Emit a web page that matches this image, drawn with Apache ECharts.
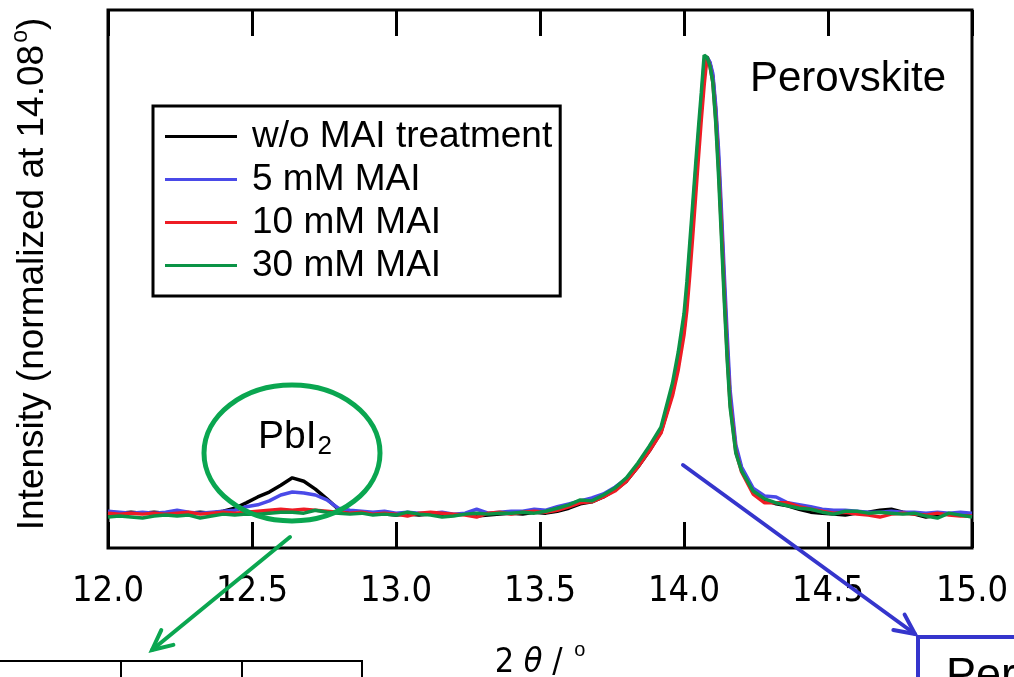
<!DOCTYPE html>
<html>
<head>
<meta charset="utf-8">
<title>XRD PbI2 / Perovskite</title>
<script src="https://cdn.jsdelivr.net/npm/echarts@6/dist/echarts.min.js"></script>
<style>
  html, body { margin: 0; padding: 0; background: #fff; }
  #chart { width: 1014px; height: 677px; }
</style>
</head>
<body>
<div id="chart"></div>
<script>
// 2θ positions (deg), finer steps around the main peak
const twoTheta = [
  12.00, 12.04, 12.08, 12.12, 12.16, 12.20, 12.24, 12.28, 12.32, 12.36,
  12.40, 12.44, 12.48, 12.52, 12.56, 12.60, 12.64, 12.68, 12.72, 12.76,
  12.80, 12.84, 12.88, 12.92, 12.96, 13.00, 13.04, 13.08, 13.12, 13.16,
  13.20, 13.24, 13.28, 13.32, 13.36, 13.40, 13.44, 13.48, 13.52, 13.56,
  13.60, 13.64, 13.68, 13.72, 13.76, 13.80, 13.84, 13.88, 13.92, 13.96,
  13.98, 14.00, 14.01, 14.02, 14.03, 14.04, 14.05, 14.06, 14.07, 14.08,
  14.09, 14.10, 14.11, 14.12, 14.13, 14.14, 14.15, 14.16, 14.18, 14.20,
  14.24, 14.28, 14.32, 14.36, 14.40, 14.44, 14.48, 14.52, 14.56, 14.60,
  14.64, 14.68, 14.72, 14.76, 14.80, 14.84, 14.88, 14.92, 14.96, 15.00
];

// intensity normalized at 14.08°
const woMAI = [
  0.069, 0.071, 0.073, 0.071, 0.073, 0.071, 0.073, 0.071, 0.073, 0.071,
  0.075, 0.081, 0.092, 0.104, 0.114, 0.128, 0.143, 0.136, 0.120, 0.100,
  0.079, 0.075, 0.073, 0.071, 0.069, 0.067, 0.069, 0.067, 0.069, 0.065,
  0.067, 0.069, 0.065, 0.067, 0.069, 0.071, 0.069, 0.073, 0.071, 0.075,
  0.081, 0.090, 0.094, 0.104, 0.118, 0.136, 0.165, 0.198, 0.236, 0.316,
  0.373, 0.444, 0.505, 0.582, 0.660, 0.739, 0.819, 0.892, 0.963, 1.000,
  0.988, 0.961, 0.892, 0.790, 0.664, 0.530, 0.407, 0.305, 0.202, 0.161,
  0.118, 0.098, 0.090, 0.086, 0.079, 0.073, 0.071, 0.069, 0.067, 0.071,
  0.073, 0.077, 0.079, 0.073, 0.069, 0.063, 0.067, 0.069, 0.067, 0.065
];
const mai5 = [
  0.075, 0.073, 0.071, 0.073, 0.071, 0.073, 0.077, 0.073, 0.071, 0.073,
  0.075, 0.077, 0.084, 0.088, 0.096, 0.108, 0.114, 0.112, 0.108, 0.098,
  0.081, 0.077, 0.075, 0.073, 0.075, 0.071, 0.073, 0.071, 0.071, 0.073,
  0.069, 0.071, 0.079, 0.071, 0.073, 0.075, 0.075, 0.079, 0.077, 0.084,
  0.090, 0.096, 0.102, 0.110, 0.124, 0.141, 0.169, 0.204, 0.242, 0.326,
  0.387, 0.460, 0.525, 0.603, 0.682, 0.762, 0.839, 0.912, 0.990, 1.000,
  0.990, 0.967, 0.902, 0.811, 0.688, 0.556, 0.434, 0.322, 0.210, 0.165,
  0.122, 0.106, 0.104, 0.092, 0.088, 0.084, 0.079, 0.077, 0.077, 0.075,
  0.073, 0.073, 0.075, 0.073, 0.073, 0.071, 0.073, 0.071, 0.073, 0.071
];
const mai10 = [
  0.071, 0.069, 0.071, 0.069, 0.071, 0.069, 0.071, 0.073, 0.069, 0.071,
  0.073, 0.071, 0.073, 0.075, 0.077, 0.079, 0.077, 0.079, 0.077, 0.075,
  0.073, 0.071, 0.073, 0.069, 0.071, 0.069, 0.065, 0.071, 0.073, 0.071,
  0.069, 0.067, 0.063, 0.071, 0.073, 0.069, 0.073, 0.075, 0.073, 0.077,
  0.084, 0.092, 0.094, 0.104, 0.116, 0.136, 0.165, 0.198, 0.234, 0.310,
  0.363, 0.434, 0.485, 0.556, 0.633, 0.713, 0.794, 0.872, 0.943, 1.000,
  0.982, 0.949, 0.876, 0.774, 0.648, 0.515, 0.393, 0.295, 0.196, 0.155,
  0.110, 0.092, 0.092, 0.092, 0.084, 0.079, 0.075, 0.071, 0.073, 0.069,
  0.067, 0.063, 0.069, 0.071, 0.069, 0.067, 0.071, 0.067, 0.065, 0.065
];
const mai30 = [
  0.063, 0.065, 0.063, 0.061, 0.065, 0.067, 0.065, 0.067, 0.061, 0.065,
  0.069, 0.067, 0.069, 0.069, 0.071, 0.073, 0.073, 0.071, 0.077, 0.073,
  0.071, 0.069, 0.071, 0.067, 0.069, 0.067, 0.073, 0.069, 0.067, 0.063,
  0.065, 0.069, 0.071, 0.069, 0.071, 0.071, 0.073, 0.071, 0.075, 0.081,
  0.088, 0.098, 0.096, 0.108, 0.122, 0.143, 0.173, 0.208, 0.246, 0.336,
  0.399, 0.477, 0.542, 0.621, 0.699, 0.778, 0.855, 0.927, 1.004, 1.000,
  0.982, 0.949, 0.868, 0.758, 0.631, 0.501, 0.383, 0.287, 0.193, 0.157,
  0.116, 0.100, 0.092, 0.086, 0.081, 0.079, 0.073, 0.069, 0.075, 0.075,
  0.071, 0.073, 0.071, 0.069, 0.071, 0.065, 0.061, 0.071, 0.067, 0.063
];

const seriesNames = ['w/o MAI treatment', '5 mM MAI', '10 mM MAI', '30 mM MAI'];
const seriesColors = ['#000000', '#4a4ae8', '#ee1c24', '#0b9346'];
const seriesData = [woMAI, mai5, mai10, mai30];

const FONT = '"Liberation Sans", Arial, sans-serif';
const NARROW = '"DejaVu Sans Condensed", "Liberation Sans Narrow", sans-serif';

const chart = echarts.init(document.getElementById('chart'), null, { renderer: 'canvas' });

// annotation arrow: line plus two head strokes
function arrow(x1, y1, x2, y2, color, head) {
  const a = Math.atan2(y2 - y1, x2 - x1);
  const h1 = [x2 - head * Math.cos(a - 0.45), y2 - head * Math.sin(a - 0.45)];
  const h2 = [x2 - head * Math.cos(a + 0.45), y2 - head * Math.sin(a + 0.45)];
  const style = { stroke: color, lineWidth: 4, lineCap: 'round' };
  return [
    { type: 'line', shape: { x1, y1, x2, y2 }, style, z: 10 },
    { type: 'polyline', shape: { points: [h1, [x2, y2], h2] }, style, z: 10 }
  ];
}

const option = {
  animation: false,
  backgroundColor: '#fff',
  grid: {
    left: 108, right: 42, top: 10, bottom: 129,
    outerBoundsMode: 'none',
    containLabel: false,
    show: true, borderColor: '#000', borderWidth: 3, backgroundColor: 'transparent'
  },
  legend: {
    orient: 'vertical',
    left: 153, top: 106,
    padding: [12, 8, 12, 12],
    borderColor: '#000', borderWidth: 3,
    icon: 'rect',
    itemWidth: 72, itemHeight: 3, itemGap: 6,
    data: seriesNames,
    textStyle: { fontFamily: FONT, fontSize: 37, color: '#000', padding: [0, 0, 0, 10] }
  },
  xAxis: [
    {
      type: 'value', min: 12, max: 15, interval: 0.5,
      axisLine: { show: false },
      axisTick: { inside: true, length: 26, lineStyle: { color: '#000', width: 3 } },
      axisLabel: {
        margin: 26, fontFamily: NARROW, fontSize: 36, color: '#000',
        formatter: v => v.toFixed(1)
      },
      splitLine: { show: false },
      name: '{n|2 }{i|θ}{n| / }{s|o}',
      nameLocation: 'middle', nameGap: 92,
      nameTextStyle: {
        rich: {
          n: { fontFamily: NARROW, fontSize: 34, color: '#000' },
          i: { fontFamily: NARROW, fontSize: 34, fontStyle: 'italic', color: '#000' },
          s: { fontFamily: FONT, fontSize: 20, color: '#000', padding: [0, 0, 26, 2] }
        }
      }
    },
    {
      type: 'value', min: 12, max: 15, interval: 0.5, position: 'top',
      axisLine: { show: false },
      axisTick: { inside: true, length: 26, lineStyle: { color: '#000', width: 3 } },
      axisLabel: { show: false },
      splitLine: { show: false }
    }
  ],
  yAxis: {
    type: 'value', min: 0, max: 1.096,
    axisLine: { show: false }, axisTick: { show: false }, axisLabel: { show: false },
    splitLine: { show: false },
    name: 'Intensity (normalized at 14.08{s|o})',
    nameLocation: 'middle', nameGap: 52, nameRotate: 90,
    nameTextStyle: {
      fontFamily: FONT, fontSize: 37, color: '#000', padding: [0, 0, 0, 10],
      rich: { s: { fontFamily: FONT, fontSize: 23, color: '#000', padding: [0, 0, 24, 2] } }
    }
  },
  series: seriesNames.map((name, k) => ({
    name,
    type: 'line',
    symbol: 'none',
    color: seriesColors[k],
    lineStyle: { width: 3.5, color: seriesColors[k] },
    data: twoTheta.map((x, i) => [x, seriesData[k][i]]),
    z: 2 + k
  })),
  graphic: [
    { type: 'text', left: 750, top: 58, style: { text: 'Perovskite', font: '42px ' + FONT, fill: '#000' } },
    {
      type: 'text', left: 258, top: 418,
      style: {
        text: '{m|PbI}{b|2}',
        rich: {
          m: { font: '39px ' + FONT, fill: '#000' },
          b: { font: '26px ' + FONT, fill: '#000', padding: [18, 0, 0, 1] }
        }
      }
    },
    { type: 'ellipse', shape: { cx: 292, cy: 453, rx: 88, ry: 68 }, style: { fill: 'none', stroke: '#0aa650', lineWidth: 5 }, z: 10 },
    ...arrow(290, 537, 152, 650, '#0aa650', 22),
    ...arrow(683, 465, 915, 634, '#3535cc', 22),
    { type: 'polyline', shape: { points: [[918, 690], [918, 637], [1020, 637]] }, style: { fill: 'none', stroke: '#3535cc', lineWidth: 4 }, z: 10 },
    { type: 'text', left: 946, top: 654, style: { text: 'Perovskite', font: '45px ' + FONT, fill: '#000' } },
    // edge of a table below the figure
    { type: 'polyline', shape: { points: [[-5, 661], [362, 661], [362, 690]] }, style: { fill: 'none', stroke: '#000', lineWidth: 2 } },
    { type: 'line', shape: { x1: 121, y1: 661, x2: 121, y2: 690 }, style: { stroke: '#000', lineWidth: 2 } },
    { type: 'line', shape: { x1: 242, y1: 661, x2: 242, y2: 690 }, style: { stroke: '#000', lineWidth: 2 } }
  ]
};

chart.setOption(option);
window.addEventListener('resize', () => chart.resize());
</script>
</body>
</html>
